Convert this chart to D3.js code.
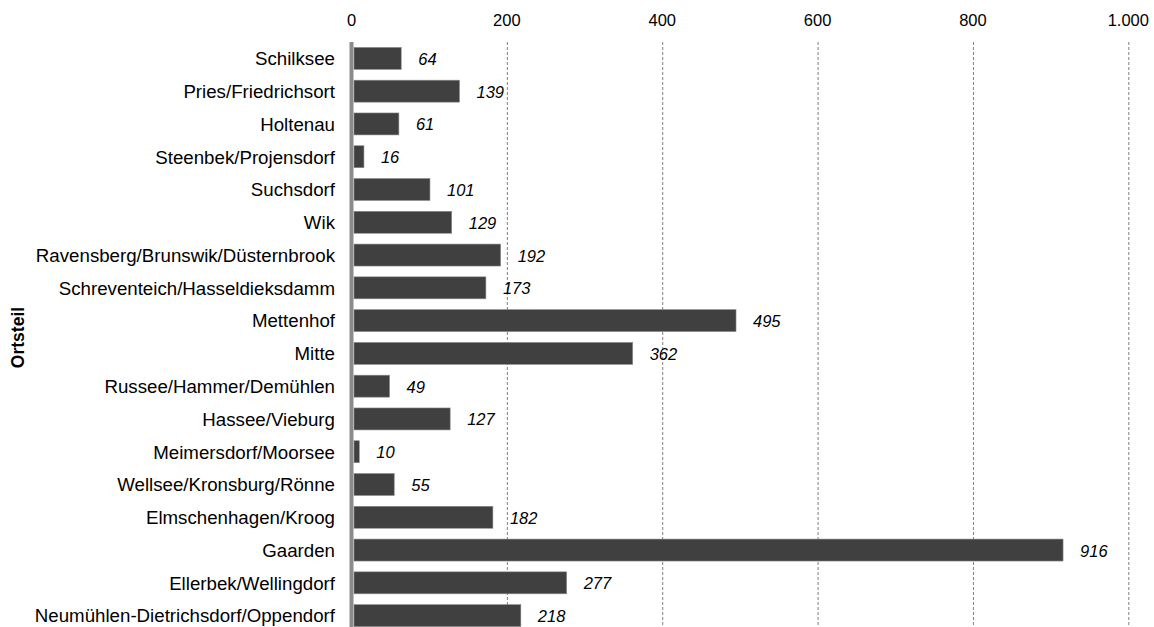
<!DOCTYPE html>
<html><head><meta charset="utf-8">
<script src="https://cdn.jsdelivr.net/npm/d3@7"></script>
<style>body{margin:0;background:#fff}svg{display:block;font-family:"Liberation Sans",Arial,sans-serif}</style>
</head><body><svg id="c" width="1154" height="627"></svg>
<script>
const categories = ["Schilksee","Pries/Friedrichsort","Holtenau","Steenbek/Projensdorf","Suchsdorf","Wik","Ravensberg/Brunswik/Düsternbrook","Schreventeich/Hasseldieksdamm","Mettenhof","Mitte","Russee/Hammer/Demühlen","Hassee/Vieburg","Meimersdorf/Moorsee","Wellsee/Kronsburg/Rönne","Elmschenhagen/Kroog","Gaarden","Ellerbek/Wellingdorf","Neumühlen-Dietrichsdorf/Oppendorf"];
const values = [64,139,61,16,101,129,192,173,495,362,49,127,10,55,182,916,277,218];
const ticks = [0,200,400,600,800,1000];
const tickLabels = ["0","200","400","600","800","1.000"];
const axisTitle = "Ortsteil";

const svg = d3.select("#c");
const x = d3.scaleLinear().domain([0,1000]).range([351.5,1128.3]);
const y = d3.scaleBand().domain(categories).range([42,632]).paddingInner(0.33).paddingOuter(0.165);

// grid
svg.append("g").selectAll("line").data(ticks.slice(1)).join("line")
  .attr("x1",d=>x(d)+0.5).attr("x2",d=>x(d)+0.5).attr("y1",42).attr("y2",627)
  .attr("stroke","#808080").attr("stroke-width",1).attr("stroke-dasharray","3,2");

// tick labels
svg.append("g").selectAll("text").data(ticks).join("text")
  .attr("x",d=>x(d)).attr("y",26).attr("text-anchor","middle")
  .attr("font-size",16.5).attr("fill","#000").text((d,i)=>tickLabels[i]);

// bars
svg.append("g").selectAll("rect").data(values).join("rect")
  .attr("x",x(0)+2.5).attr("y",(d,i)=>y(categories[i]))
  .attr("width",d=>Math.max(0,x(d)-x(0)-2.5)).attr("height",y.bandwidth())
  .attr("fill","#404040").attr("stroke","#8a8a8a").attr("stroke-width",0.6);

// value labels
svg.append("g").selectAll("text").data(values).join("text")
  .attr("x",d=>x(d)+17).attr("y",(d,i)=>y(categories[i])+y.bandwidth()/2+6.5)
  .attr("font-size",16.5).attr("font-style","italic").attr("fill","#000").text(d=>d);

// zero line
svg.append("line").attr("x1",x(0)).attr("x2",x(0)).attr("y1",42).attr("y2",627)
  .attr("stroke","#8c8c8c").attr("stroke-width",4);

// category labels
svg.append("g").selectAll("text").data(categories).join("text")
  .attr("x",335).attr("y",d=>y(d)+y.bandwidth()/2+6.8).attr("text-anchor","end")
  .attr("font-size",18.7).attr("fill","#000").text(d=>d);

// axis title
svg.append("text").attr("transform","translate(24,337.5) rotate(-90)")
  .attr("text-anchor","middle").attr("font-size",17.5).attr("font-weight","bold").text(axisTitle);
</script></body></html>
